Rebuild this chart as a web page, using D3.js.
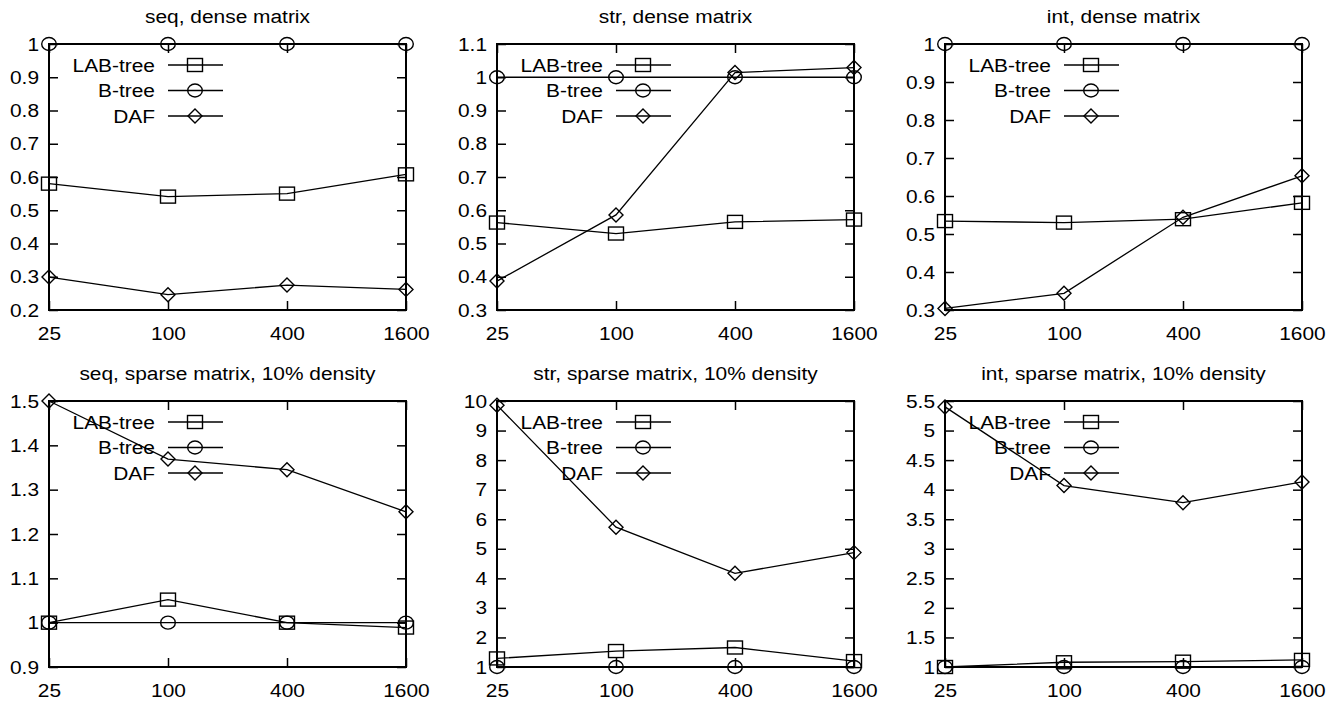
<!DOCTYPE html>
<html>
<head>
<meta charset="utf-8">
<script src="https://cdn.jsdelivr.net/npm/d3@7"></script>
<style>
  body { margin: 0; background: #fff; }
  svg text { font-family: "Liberation Sans", Arial, Helvetica, sans-serif; fill: #000; }
</style>
</head>
<body>
<script>
// matrix sizes on the x axis (log spaced)
var sizes = [25, 100, 400, 1600];
var seriesNames = ["LAB-tree", "B-tree", "DAF"];
var markerTypes = ["square", "circle", "diamond"];

var titles = [
  "seq, dense matrix", "str, dense matrix", "int, dense matrix",
  "seq, sparse matrix, 10% density", "str, sparse matrix, 10% density", "int, sparse matrix, 10% density"
];

// one row per panel, one value per size
var labTree = [
  [0.58, 0.541, 0.55, 0.608],
  [0.563, 0.53, 0.565, 0.572],
  [0.534, 0.53, 0.539, 0.582],
  [1.0, 1.052, 1.0, 0.989],
  [1.29, 1.54, 1.66, 1.2],
  [1.0, 1.08, 1.09, 1.12]
];
var bTree = [
  [1, 1, 1, 1],
  [1, 1, 1, 1],
  [1, 1, 1, 1],
  [1, 1, 1, 1],
  [1, 1, 1, 1],
  [1, 1, 1, 1]
];
var daf = [
  [0.299, 0.246, 0.275, 0.262],
  [0.387, 0.586, 1.014, 1.029],
  [0.304, 0.344, 0.544, 0.653],
  [1.5, 1.369, 1.345, 1.25],
  [9.86, 5.73, 4.17, 4.87],
  [5.4, 4.07, 3.78, 4.13]
];

var yTicks = [
  [0.2, 0.3, 0.4, 0.5, 0.6, 0.7, 0.8, 0.9, 1],
  [0.3, 0.4, 0.5, 0.6, 0.7, 0.8, 0.9, 1, 1.1],
  [0.3, 0.4, 0.5, 0.6, 0.7, 0.8, 0.9, 1],
  [0.9, 1, 1.1, 1.2, 1.3, 1.4, 1.5],
  [1, 2, 3, 4, 5, 6, 7, 8, 9, 10],
  [1, 1.5, 2, 2.5, 3, 3.5, 4, 4.5, 5, 5.5]
];

var width = 1343,
    height = 702,
    plotW = 357,
    plotH = 266,
    colLeft = [49, 497, 945],
    rowTop = [44, 401],
    fontSize = 19,
    stretch = 1.1,   // text in the picture is a little wide
    tickLen = 9;

var svg = d3.select("body")
    .append("svg")
    .attr("width", width)
    .attr("height", height);

function drawMarker(g, type, x, y) {
    if (type == "square") {
        g.append("rect")
            .attr("x", x - 7.5).attr("y", y - 6.5)
            .attr("width", 15).attr("height", 13);
    } else if (type == "circle") {
        g.append("ellipse")
            .attr("cx", x).attr("cy", y)
            .attr("rx", 7.3).attr("ry", 6.5);
    } else {
        g.append("path")
            .attr("d", "M" + x + "," + (y - 7) + "L" + (x + 7) + "," + y +
                       "L" + x + "," + (y + 7) + "L" + (x - 7) + "," + y + "Z");
    }
}

function stretchText(sel) {
    sel.each(function() {
        var t = d3.select(this);
        var x = +t.attr("x") || 0;
        t.attr("transform", "translate(" + x * (1 - stretch) + ",0) scale(" + stretch + ",1)");
    });
}

titles.forEach(function(title, p) {
    var left = colLeft[p % 3],
        top = rowTop[Math.floor(p / 3)],
        ticks = yTicks[p];

    var x = d3.scaleLog()
        .domain([sizes[0], sizes[sizes.length - 1]])
        .range([0, plotW]);

    var y = d3.scaleLinear()
        .domain([ticks[0], ticks[ticks.length - 1]])
        .range([plotH, 0]);

    var g = svg.append("g").attr("transform", "translate(" + left + "," + top + ")");

    // axes, ticks pointing inward on all four sides
    var fmt = d3.format("~g");
    var yl = g.append("g").call(d3.axisLeft(y).tickValues(ticks).tickFormat(fmt)
        .tickSizeInner(-tickLen).tickSizeOuter(0).tickPadding(10));
    var yr = g.append("g").attr("transform", "translate(" + plotW + ",0)")
        .call(d3.axisRight(y).tickValues(ticks).tickFormat("")
        .tickSizeInner(-tickLen).tickSizeOuter(0));
    var xb = g.append("g").attr("transform", "translate(0," + plotH + ")")
        .call(d3.axisBottom(x).tickValues(sizes).tickFormat(d3.format("d"))
        .tickSizeInner(-tickLen).tickSizeOuter(0).tickPadding(17));
    var xt = g.append("g")
        .call(d3.axisTop(x).tickValues(sizes).tickFormat("")
        .tickSizeInner(-tickLen).tickSizeOuter(0));

    [yl, yr, xb, xt].forEach(function(a) {
        a.attr("font-size", null).attr("font-family", null);
        a.select(".domain").remove();
        a.selectAll("line").attr("stroke", "#000").attr("stroke-width", 1.5);
        a.selectAll("text")
            .style("font-size", fontSize + "px")
            .attr("fill", "#000");
    });
    yl.selectAll("text").call(stretchText);
    xb.selectAll("text").call(stretchText);

    // frame
    g.append("rect")
        .attr("width", plotW).attr("height", plotH)
        .attr("fill", "none").attr("stroke", "#000").attr("stroke-width", 2);

    // title
    g.append("text")
        .attr("x", plotW / 2).attr("y", -21)
        .attr("text-anchor", "middle")
        .style("font-size", fontSize + "px")
        .text(title)
        .call(stretchText);

    var line = d3.line()
        .x(function(d, i) { return x(sizes[i]); })
        .y(function(d) { return y(d); });

    var allSeries = [labTree[p], bTree[p], daf[p]];

    allSeries.forEach(function(vals, s) {
        g.append("path")
            .datum(vals)
            .attr("d", line)
            .attr("fill", "none")
            .attr("stroke", "#000")
            .attr("stroke-width", 1.3);

        var mg = g.append("g").attr("fill", "none").attr("stroke", "#000").attr("stroke-width", 1.4);
        vals.forEach(function(v, i) {
            drawMarker(mg, markerTypes[s], x(sizes[i]), y(v));
        });
    });

    // legend
    var rowY = [21, 46.5, 72];
    seriesNames.forEach(function(name, s) {
        var lg = g.append("g");
        lg.append("text")
            .attr("x", 106).attr("y", rowY[s])
            .attr("dy", "0.36em")
            .attr("text-anchor", "end")
            .style("font-size", fontSize + "px")
            .text(name)
            .call(stretchText);
        lg.append("line")
            .attr("x1", 119).attr("x2", 174)
            .attr("y1", rowY[s]).attr("y2", rowY[s])
            .attr("stroke", "#000").attr("stroke-width", 1.3);
        var mg = lg.append("g").attr("fill", "none").attr("stroke", "#000").attr("stroke-width", 1.4);
        drawMarker(mg, markerTypes[s], 146, rowY[s]);
    });
});
</script>
</body>
</html>
